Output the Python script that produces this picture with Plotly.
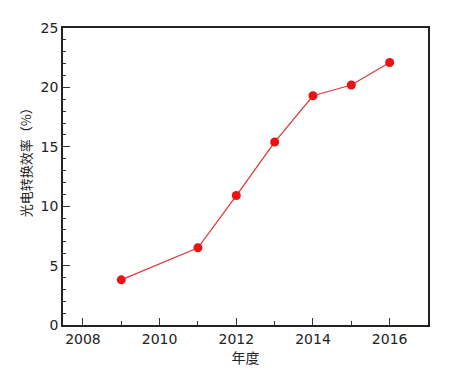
import plotly.graph_objects as go

years = [2009, 2011, 2012, 2013, 2014, 2015, 2016]
efficiency = [3.8, 6.5, 10.9, 15.4, 19.3, 20.2, 22.1]
x_ticks = [2008, 2010, 2012, 2014, 2016]
y_ticks = [0, 5, 10, 15, 20, 25]

fig = go.Figure()
fig.add_trace(go.Scatter(
    x=years, y=efficiency, mode="lines+markers",
    line=dict(color="#e03a3a", width=1.3),
    marker=dict(color="#ee1111", size=9),
    showlegend=False,
))

font_family = "DejaVu Sans, Noto Sans CJK SC"
fig.update_layout(
    width=462, height=371,
    margin=dict(l=55, r=42, t=16, b=54),
    paper_bgcolor="white", plot_bgcolor="white",
    font=dict(family=font_family, size=14, color="#222222"),
    xaxis=dict(
        range=[2007.48, 2017], tickvals=x_ticks, ticktext=[str(v) for v in x_ticks],
        ticks="inside", ticklen=7, tickcolor="#333", showline=True, linecolor="#222",
        linewidth=1.5, mirror=True, showgrid=False, zeroline=False,
        minor=dict(tickvals=[2009, 2011, 2013, 2015], ticks="inside", ticklen=4, tickcolor="#333"),
        title=dict(text="年度", font=dict(size=14, family="Noto Sans CJK SC"), standoff=2),
    ),
    yaxis=dict(
        range=[0, 25], tickvals=y_ticks,
        ticks="inside", ticklen=7, tickcolor="#333", showline=True, linecolor="#222",
        linewidth=1.5, mirror=True, showgrid=False, zeroline=False,
        minor=dict(dtick=1, ticks="inside", ticklen=3, tickcolor="#333"),
    ),
    annotations=[dict(
        text="光电转换效率（%）", textangle=-90, showarrow=False,
        xref="paper", yref="paper", x=0, y=0.558, xshift=-38,
        xanchor="center", yanchor="middle",
        font=dict(size=13, family="Noto Sans CJK SC", color="#222222"),
    )],
)
fig.write_html("out.html")
